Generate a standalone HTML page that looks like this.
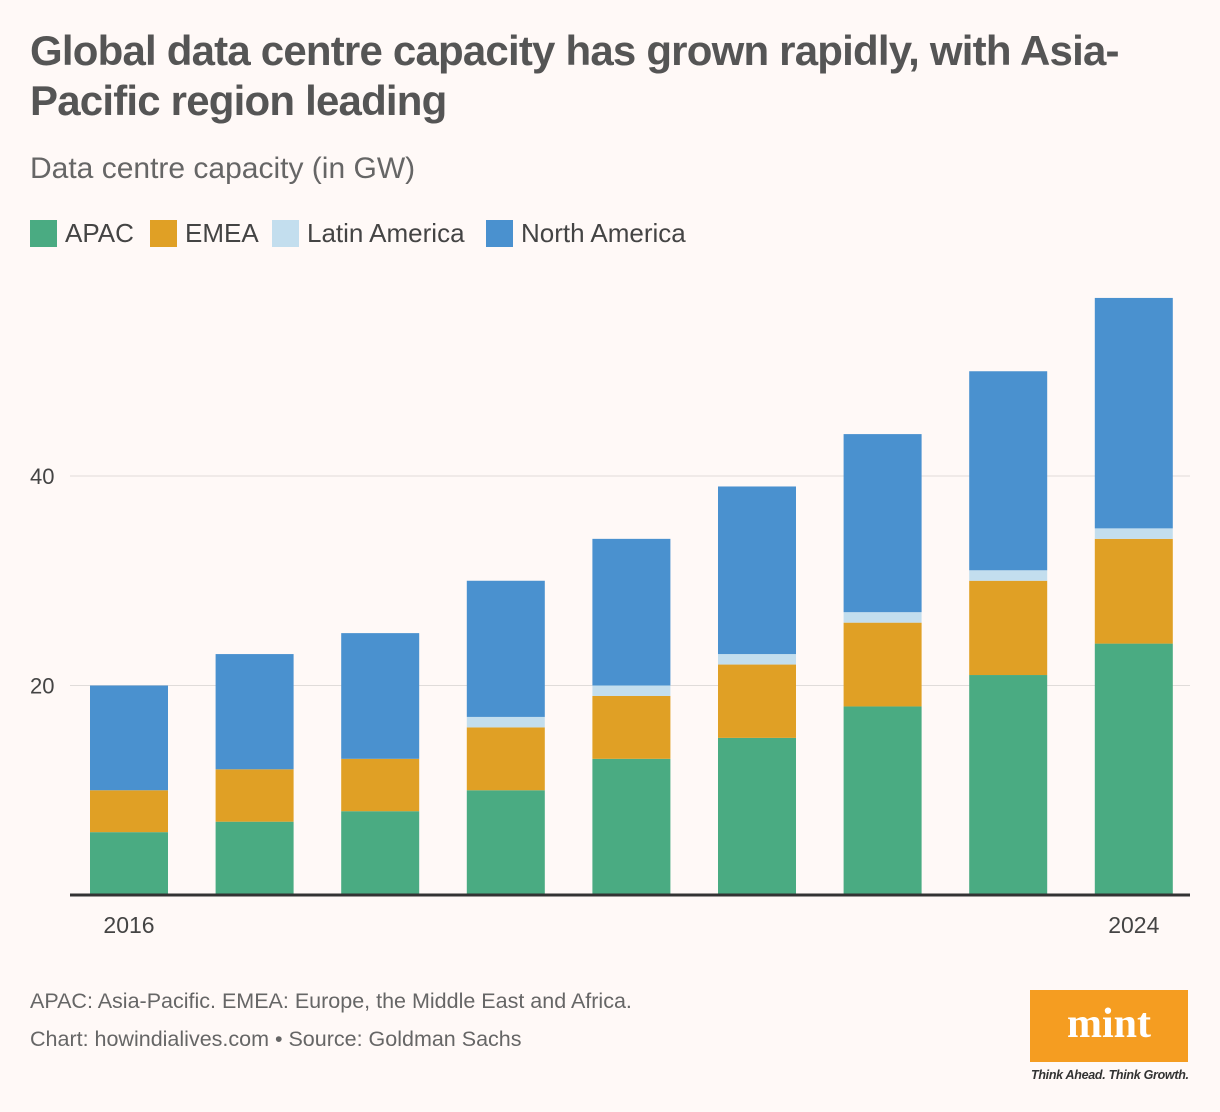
<!DOCTYPE html>
<html><head><meta charset="utf-8"><style>
body{margin:0;width:1220px;height:1112px;background:#fff9f7;font-family:"Liberation Sans",sans-serif;position:relative;overflow:hidden}
.abs{position:absolute}
h1{position:absolute;left:30px;top:26px;margin:0;font-size:42px;line-height:50px;font-weight:bold;color:#555;letter-spacing:-0.8px;width:1190px;white-space:nowrap}
.sub{left:30px;top:152px;font-size:30px;color:#666}
.leg{top:218px;font-size:26px;color:#444;display:flex;align-items:center}
.sw{width:27px;height:27px;margin-right:8px}
.note{left:30px;font-size:21.5px;color:#666}
</style></head><body>
<h1>Global data centre capacity has grown rapidly, with Asia-<br>Pacific region leading</h1>
<div class="abs sub">Data centre capacity (in GW)</div>
<div class="abs leg" style="left:30px"><div class="sw" style="background:#4aab82"></div>APAC</div>
<div class="abs leg" style="left:150px"><div class="sw" style="background:#e0a025"></div>EMEA</div>
<div class="abs leg" style="left:272px"><div class="sw" style="background:#c3deee"></div>Latin America</div>
<div class="abs leg" style="left:486px"><div class="sw" style="background:#4a91cf"></div>North America</div>
<svg class="abs" style="left:0;top:0" width="1220" height="960" id="chart"></svg>
<div class="abs note" style="top:989px">APAC: Asia-Pacific. EMEA: Europe, the Middle East and Africa.</div>
<div class="abs note" style="top:1027px">Chart: howindialives.com • Source: Goldman Sachs</div>
<div class="abs" style="left:1030px;top:990px;width:158px;height:72px;background:#f59d21;color:#fff;font-family:'Liberation Serif',serif;font-weight:bold;font-size:42px;text-align:center;line-height:68px">mint</div>
<div class="abs" style="left:1031px;top:1068px;font-size:12.5px;font-style:italic;font-weight:bold;color:#333;letter-spacing:-0.3px">Think Ahead. Think Growth.</div>
<script>
const years=["2016","2017","2018","2019","2020","2021","2022","2023","2024"];
const apac=[6,7,8,10,13,15,18,21,24];
const emea=[4,5,5,6,6,7,8,9,10];
const latam=[0,0,0,1,1,1,1,1,1];
const namer=[10,11,12,13,14,16,17,19,22];
const yTicks=[20,40];
const series=[["apac",apac,"#4aab82"],["emea",emea,"#e0a025"],["latin-america",latam,"#c3deee"],["north-america",namer,"#4a91cf"]];
const svg=document.getElementById('chart');const NS="http://www.w3.org/2000/svg";
const y=v=>895-v*10.475;
const x=i=>90+i*125.6;
const bw=78;
function mk(t,a){const e=document.createElementNS(NS,t);for(const k in a)e.setAttribute(k,a[k]);svg.appendChild(e);return e;}
yTicks.forEach(t=>{
 const l=mk('line',{x1:70,x2:1190,y1:y(t),y2:y(t),stroke:'#e0dcda','stroke-width':1});
 
 
 const tx=mk('text',{x:30,y:y(t)+8,'font-size':22,fill:'#444','font-family':'Liberation Sans'});
 tx.textContent=t;
 
 
});
years.forEach((yr,i)=>{
 let base=0;
 series.forEach(([n,arr,c])=>{
  const v=arr[i];if(v>0){
   const r=mk('rect',{x:x(i),y:y(base+v),width:bw,height:y(base)-y(base+v),fill:c});
   
   
  }
  base+=v;
 });
});
const ax=mk('line',{x1:70,x2:1190,y1:895,y2:895,stroke:'#333','stroke-width':3});


[0,years.length-1].forEach(i=>{
 const t=mk('text',{x:x(i)+bw/2,y:933,'font-size':23,fill:'#444','text-anchor':'middle','font-family':'Liberation Sans'});
 t.textContent=years[i];
 
 
});
</script>
</body></html>
